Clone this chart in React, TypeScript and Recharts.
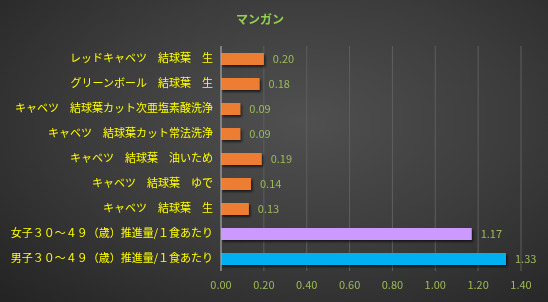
import React from 'react';
import { BarChart, Bar, XAxis, YAxis, CartesianGrid, Cell, LabelList } from 'recharts';

const categories = [
  'レッドキャベツ　結球葉　生',
  'グリーンボール　結球葉　生',
  'キャベツ　結球葉カット次亜塩素酸洗浄',
  'キャベツ　結球葉カット常法洗浄',
  'キャベツ　結球葉　油いため',
  'キャベツ　結球葉　ゆで',
  'キャベツ　結球葉　生',
  '女子３０～４９（歳）推進量/１食あたり',
  '男子３０～４９（歳）推進量/１食あたり',
];
const values = [0.2, 0.18, 0.09, 0.09, 0.19, 0.14, 0.13, 1.17, 1.33];
const barColors = ['#ed7d31','#ed7d31','#ed7d31','#ed7d31','#ed7d31','#ed7d31','#ed7d31','#cc99ff','#00b0f0'];
const xTicks = [0, 0.2, 0.4, 0.6, 0.8, 1.0, 1.2, 1.4];

const data = categories.map((name, i) => ({ name, value: values[i], color: barColors[i] }));

const font = '"Noto Sans CJK JP", "Noto Sans", sans-serif';

const ShadowBar = (props: any) => {
  const { x, y, width, height, fill } = props;
  return <rect x={x} y={y} width={width} height={height} fill={fill} filter="url(#barShadow)" />;
};

export default function App() {
  return (
    <div style={{ position: 'fixed', left: 0, top: 0, width: 548, height: 302,
      background: 'radial-gradient(ellipse at 55% 40%, #505050 0%, #3c3c3c 50%, #232323 100%)', fontFamily: font }}>
      <svg width={0} height={0} style={{ position: 'absolute' }}>
        <defs>
          <filter id="barShadow" x="-10%" y="-30%" width="130%" height="180%">
            <feDropShadow dx={1.5} dy={2} stdDeviation={1.2} floodColor="#000" floodOpacity={0.6} />
          </filter>
        </defs>
      </svg>
      <div style={{ position: 'absolute', left: 0, width: 520, top: 10, textAlign: 'center',
        color: '#92d050', fontWeight: 'bold', fontSize: 12 }}>マンガン</div>
      <BarChart width={548} height={302} data={data} layout="vertical"
        margin={{ top: 46, right: 27, bottom: 6, left: 0 }} barCategoryGap="52%">
        <CartesianGrid horizontal={false} stroke="#5e5e5e" strokeWidth={1} />
        <XAxis type="number" domain={[0, 1.4]} ticks={xTicks} tickFormatter={(v: number) => v.toFixed(2)}
          axisLine={false} tickLine={false} height={25} tickMargin={4}
          tick={{ fill: '#9bbb59', fontSize: 11, fontFamily: font }} />
        <YAxis type="category" dataKey="name" width={221} axisLine={{ stroke: '#b0b0b0' }} tickLine={false}
          interval={0} tick={{ fill: '#ffff00', fontSize: 11, fontFamily: font }} />
        <Bar dataKey="value" barSize={12} isAnimationActive={false} shape={ShadowBar}>
          {data.map((d) => <Cell key={d.name} fill={d.color} />)}
          <LabelList dataKey="value" position="right" offset={9}
            formatter={(v: any) => Number(v).toFixed(2)}
            style={{ fill: '#9bbb59', fontSize: 11, fontFamily: font }} />
        </Bar>
      </BarChart>
    </div>
  );
}
